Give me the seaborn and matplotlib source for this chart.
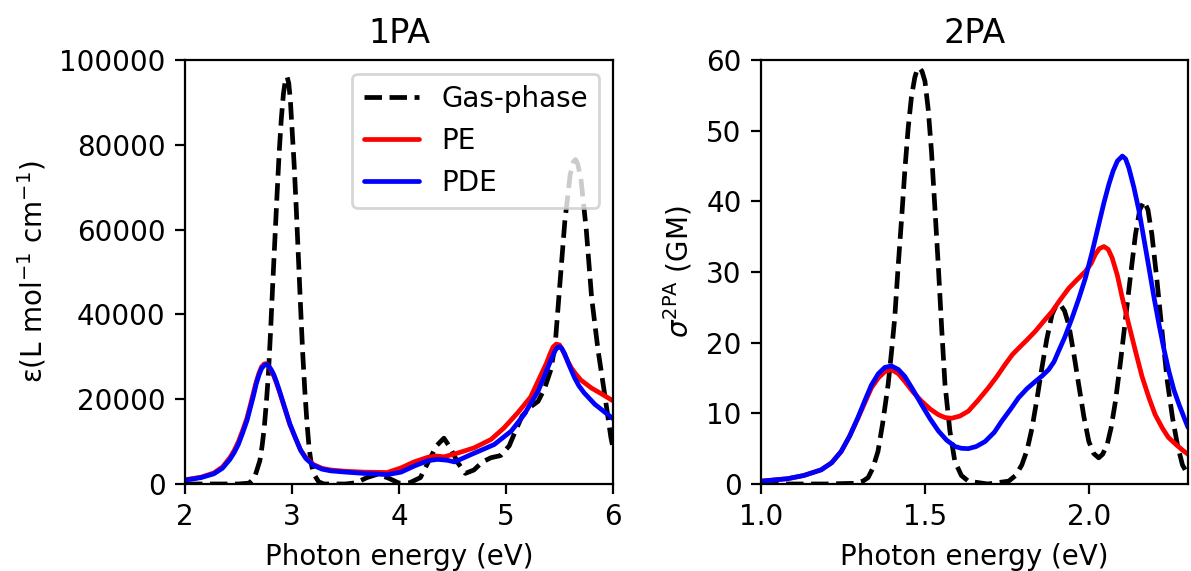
import numpy as np
import pandas as pd
import matplotlib
matplotlib.use("Agg")
import matplotlib.pyplot as plt
import seaborn as sns

# ---------------- 1PA data ----------------
gas1_x = [2.0, 2.3, 2.5, 2.6, 2.65, 2.70, 2.72, 2.74, 2.76, 2.78, 2.80, 2.82, 2.84, 2.86, 2.88, 2.90,
          2.92, 2.94, 2.955, 2.97, 2.985, 3.00, 3.02, 3.04, 3.06, 3.08, 3.10, 3.12, 3.14, 3.16, 3.18,
          3.20, 3.25, 3.30, 3.5, 3.6, 3.7, 3.8, 3.9, 4.0, 4.1, 4.2, 4.28,
          4.35, 4.42, 4.48, 4.55, 4.62, 4.70, 4.78, 4.86, 4.95, 5.03, 5.08, 5.15, 5.23, 5.30,
          5.36, 5.42, 5.46, 5.50, 5.55, 5.60, 5.63, 5.65, 5.67, 5.70, 5.75, 5.80, 5.86, 5.92, 5.98, 6.0]
gas1_y = [0, 0, 0, 200, 1500, 5500, 8800, 13000, 19000, 26000, 36000, 47000, 57500, 68000, 78000, 86000,
          92000, 95500, 96000, 94500, 90500, 84000, 75500, 65000, 53500, 42000, 31000, 22000, 14500, 8500, 4800,
          2500, 500, 0, 0, 300, 1500, 2300, 1400, 200, 300, 1500, 5500,
          9000, 10800, 8500, 5000, 2500, 3300, 5200, 6200, 6700, 9000, 12000, 16000, 18200, 19500,
          22500, 27000, 33000, 46000, 62000, 73000, 76000, 76500, 75500, 72000, 60000, 44000, 31600, 21500, 11000, 8500]

pe1_x = [2.0, 2.15, 2.27, 2.35, 2.42, 2.46, 2.50, 2.54, 2.58, 2.61, 2.64, 2.665, 2.69, 2.715, 2.74, 2.76,
         2.78, 2.805, 2.83, 2.855, 2.88, 2.905, 2.93, 2.955, 2.98,
         3.03, 3.08, 3.13, 3.20, 3.28, 3.36, 3.50, 3.67, 3.89, 4.02, 4.14, 4.27, 4.35, 4.42, 4.55,
         4.70, 4.86, 4.98, 5.11, 5.23, 5.33, 5.38, 5.41, 5.44, 5.47, 5.50, 5.53, 5.57, 5.61, 5.65, 5.70, 5.80, 5.89, 6.0]
pe1_y = [1000, 1600, 2600, 4000, 6200, 7900, 10000, 12700, 15600, 18500, 21500, 24000, 26000, 27600, 28300, 28400,
         27800, 26800, 25500, 23800, 22000, 20000, 18000, 16000, 14000,
         11000, 8000, 6200, 4600, 3700, 3300, 3000, 2800, 2700, 3800, 5200, 6300, 6600, 6400, 7300,
         8500, 10500, 13200, 16800, 20500, 25900, 28600, 30600, 32300, 33000, 32800, 31500, 29300, 27400, 26000, 24500, 22600, 21300, 19600]

pde1_x = [2.0, 2.15, 2.27, 2.35, 2.42, 2.46, 2.50, 2.54, 2.58, 2.61, 2.64, 2.665, 2.69, 2.715, 2.74, 2.76,
          2.78, 2.805, 2.83, 2.855, 2.88, 2.905, 2.93, 2.955, 2.98,
          3.03, 3.08, 3.13, 3.20, 3.28, 3.36, 3.50, 3.67, 3.89, 4.02, 4.14, 4.27, 4.36, 4.45, 4.52,
          4.67, 4.89, 5.05, 5.17, 5.30, 5.39, 5.43, 5.46, 5.48, 5.50, 5.52, 5.55, 5.59, 5.64, 5.68, 5.73, 5.83, 5.92, 6.0]
pde1_y = [900, 1500, 2400, 3700, 5800, 7400, 9400, 12100, 15000, 17900, 20800, 23500, 25600, 27200, 28000, 28200,
          27900, 27000, 25800, 24100, 22200, 20200, 18200, 16200, 14200,
          11000, 8000, 6000, 4400, 3500, 3100, 2800, 2500, 2200, 2800, 4200, 5500, 5800, 5600, 5200,
          6900, 9300, 12500, 16400, 21900, 27400, 29800, 31500, 32200, 32400, 32000, 30600, 28000, 25100, 23200, 21500, 18800, 17000, 15400]

# ---------------- 2PA data ----------------
gas2_x = [1.0, 1.2, 1.285, 1.31, 1.326, 1.34, 1.356, 1.37, 1.387, 1.397, 1.407, 1.417, 1.428, 1.438, 1.448,
          1.458, 1.468, 1.475, 1.482, 1.49, 1.499, 1.509, 1.519, 1.53, 1.54, 1.55, 1.56, 1.575, 1.59, 1.61,
          1.631, 1.69, 1.754, 1.775, 1.794, 1.81, 1.825,
          1.84, 1.855, 1.87, 1.886, 1.898, 1.911, 1.924, 1.937, 1.952, 1.967, 1.983, 1.998, 2.013, 2.028, 2.04,
          2.054, 2.066, 2.079, 2.095, 2.11, 2.125, 2.14, 2.153, 2.166, 2.178, 2.19, 2.205, 2.222,
          2.237, 2.253, 2.268, 2.283, 2.3]
gas2_y = [0, 0, 0.1, 0.4, 0.9, 2.2, 4.6, 8.5, 14.1, 18.6, 23.5, 30.5, 37.6, 44.5, 50.4,
          54.8, 57.5, 58.6, 58.9, 58.4, 57.0, 53.0, 47.0, 38.5, 30.6, 22.0, 14.1, 7.5, 3.2, 1.2,
          0.4, 0, 0.4, 1.2, 2.7, 4.8, 7.9,
          12.0, 16.4, 20.5, 24.0, 25.2, 25.4, 24.5, 22.5, 18.5, 14.1, 9.5, 6.0, 4.3, 3.7, 4.2,
          5.6, 8.0, 11.7, 17.5, 23.5, 29.5, 35.3, 38.8, 40.0, 38.8, 35.3, 29.0, 21.1,
          14.5, 9.3, 5.5, 2.7, 1.3]

pe2_x = [1.0, 1.081, 1.13, 1.183, 1.215, 1.244, 1.27, 1.295, 1.316, 1.336, 1.357, 1.377, 1.397, 1.418,
         1.438, 1.463, 1.489, 1.515, 1.54, 1.56, 1.58, 1.605, 1.631, 1.66, 1.692, 1.718, 1.743, 1.765,
         1.784, 1.81, 1.835, 1.86, 1.886, 1.91, 1.937, 1.96, 1.988, 2.005, 2.018, 2.03, 2.044, 2.057,
         2.069, 2.085, 2.1, 2.12, 2.14, 2.16, 2.181, 2.2, 2.222, 2.24, 2.263, 2.283, 2.3]
pe2_y = [0.4, 0.75, 1.2, 2.0, 3.0, 4.6, 6.8, 9.3, 11.5, 13.6, 15.0, 15.9, 16.2, 15.6,
         14.5, 13.0, 11.7, 10.6, 9.8, 9.4, 9.3, 9.6, 10.3, 11.8, 13.6, 15.2, 16.9, 18.3,
         19.2, 20.4, 21.6, 23.0, 24.4, 26.0, 27.7, 28.8, 30.1, 31.2, 32.5, 33.3, 33.6, 33.2,
         32.0, 29.5, 26.3, 22.5, 18.8, 15.2, 12.2, 9.8, 7.9, 6.6, 5.6, 4.8, 4.2]

pde2_x = [1.0, 1.081, 1.13, 1.183, 1.215, 1.244, 1.27, 1.295, 1.316, 1.336, 1.357, 1.377, 1.397, 1.418,
          1.438, 1.463, 1.489, 1.515, 1.54, 1.565, 1.591, 1.61, 1.631, 1.655, 1.682, 1.71, 1.733, 1.76,
          1.784, 1.81, 1.835, 1.856, 1.876, 1.892, 1.906, 1.925, 1.947, 1.968, 1.988, 2.008, 2.028,
          2.044, 2.059, 2.072, 2.085, 2.1, 2.11, 2.12, 2.135, 2.151, 2.166, 2.181, 2.196, 2.212,
          2.227, 2.242, 2.257, 2.273, 2.288, 2.3]
pde2_y = [0.4, 0.75, 1.2, 2.0, 3.0, 4.6, 6.8, 9.4, 11.8, 14.0, 15.6, 16.5, 16.7, 16.2,
          15.2, 13.3, 11.2, 9.2, 7.5, 6.2, 5.3, 5.05, 5.0, 5.3, 6.0, 7.3, 8.9, 10.6,
          12.2, 13.5, 14.5, 15.3, 16.2, 17.3, 18.8, 20.8, 23.5, 26.3, 29.2, 32.8, 36.7,
          39.8, 42.4, 44.3, 45.7, 46.4, 46.0, 44.7, 42.0, 38.6, 34.6, 30.6, 26.5, 22.5,
          19.0, 15.9, 13.3, 11.2, 9.4, 8.0]

series_names = ["Gas-phase", "PE", "PDE"]
x1_ticks = [2, 3, 4, 5, 6]
y1_ticks = [0, 20000, 40000, 60000, 80000, 100000]
x2_ticks = [1.0, 1.5, 2.0]
y2_ticks = [0, 10, 20, 30, 40, 50, 60]

sns.set_style("ticks")
plt.rcParams.update({
    "font.family": ["DejaVu Sans"],
    "font.size": 10,
    "axes.titlesize": 12,
    "axes.labelsize": 10,
    "xtick.labelsize": 10,
    "ytick.labelsize": 10,
    "legend.fontsize": 10,
    "text.color": "black",
    "axes.labelcolor": "black",
    "axes.edgecolor": "black",
    "axes.linewidth": 0.8,
    "xtick.color": "black",
    "ytick.color": "black",
    "xtick.major.size": 3.5,
    "ytick.major.size": 3.5,
    "xtick.major.width": 0.8,
    "ytick.major.width": 0.8,
    "mathtext.fontset": "dejavusans",
})

fig = plt.figure(figsize=(5.955, 2.855), dpi=200)
ax1 = fig.add_axes([0.1553, 0.1524, 0.3594, 0.7426])
ax2 = fig.add_axes([0.6390, 0.1524, 0.3585, 0.7426])

styles = {"Gas-phase": dict(color="black", linestyle="--"),
          "PE": dict(color="red", linestyle="-"),
          "PDE": dict(color="blue", linestyle="-")}

panel1 = [(gas1_x, gas1_y), (pe1_x, pe1_y), (pde1_x, pde1_y)]
panel2 = [(gas2_x, gas2_y), (pe2_x, pe2_y), (pde2_x, pde2_y)]

for ax, panel in ((ax1, panel1), (ax2, panel2)):
    for name, (xs, ys) in zip(series_names, panel):
        df = pd.DataFrame({"x": xs, "y": ys})
        sns.lineplot(data=df, x="x", y="y", ax=ax, sort=False, estimator=None,
                     linewidth=1.7, label=name, **styles[name])

ax1.set_xlim(2, 6)
ax1.set_ylim(0, 100000)
ax1.set_xticks(x1_ticks)
ax1.set_yticks(y1_ticks)
ax1.set_title("1PA")
ax1.set_xlabel("Photon energy (eV)")
ax1.set_ylabel("ε(L mol$^{-1}$ cm$^{-1}$)")
ax1.legend(loc="upper right", frameon=True, fancybox=True, framealpha=0.8, edgecolor="0.8")

ax2.set_xlim(1.0, 2.3)
ax2.set_ylim(0, 60)
ax2.set_xticks(x2_ticks)
ax2.set_xticklabels([f"{t:.1f}" for t in x2_ticks])
ax2.set_yticks(y2_ticks)
ax2.set_title("2PA")
ax2.set_xlabel("Photon energy (eV)")
ax2.set_ylabel(r"$\sigma^{\rm 2PA}$ (GM)")
if ax2.get_legend() is not None:
    ax2.get_legend().remove()

for ax in (ax1, ax2):
    for sp in ax.spines.values():
        sp.set_visible(True)
        sp.set_color("black")

fig.savefig("out.png", dpi=200)
